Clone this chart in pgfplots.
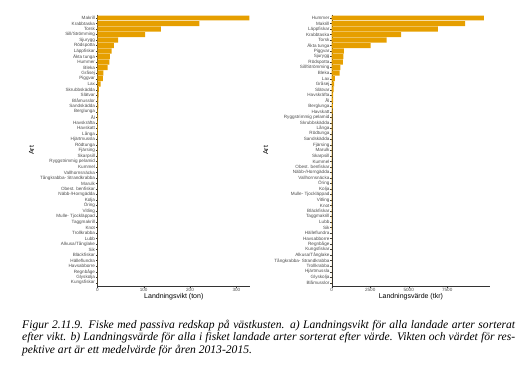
\documentclass[border=0pt]{standalone}
\usepackage{pgfplots}
\usepackage{pgfplotstable}
\pgfplotsset{compat=1.18}
\usepackage{fontspec}
\setmainfont{Liberation Sans}
\newfontfamily\capfont{Liberation Serif}
\definecolor{barc}{HTML}{E69F00}

\pgfplotstableread[col sep=comma,row sep=\\]{
name,val\\
Makrill,328\\
Krabbtaska,220\\
Torsk,137\\
Sill/Strömming,103\\
Sjurygg,45\\
Rödspotta,36\\
Läppfiskar,31\\
Äkta tunga,27\\
Hummer,26\\
Bleka,22\\
Gråsej,13\\
Piggvar,12\\
Lax,7\\
Skrubbskädda,3.5\\
Slätvar,2.8\\
Blåmusslor,2.5\\
Sandskädda,2.2\\
Berglunga,1.8\\
Ål,1.6\\
Havskräfta,1.4\\
Havskatt,1.2\\
Långa,1.0\\
Hjärtmussla,0.9\\
Rödtunga,0.8\\
Fjärsing,0.7\\
Skarpsill,0.6\\
Ryggstrimmig pelamid,0.5\\
Kummel,0.45\\
Vallhornsnäcka,0.4\\
Tångkrabba- Strandkrabba,0.35\\
Marulk,0.3\\
Obest. benfiskar,0.28\\
Näbb-/Horngädda,0.25\\
Kolja,0.22\\
Öring,0.2\\
Vitling,0.18\\
Mulle- Tjockläppad,0.15\\
Taggmakrill,0.12\\
Knot,0.1\\
Trollkrabba,0.09\\
Lubb,0.08\\
Alkusa/Tånglake,0.07\\
Sik,0.06\\
Bläckfiskar,0.05\\
Hälleflundra,0.04\\
Havsabborre,0.03\\
Regnbåge,0.02\\
Glyskolja,0.01\\
Kungsfiskar,0.005\\
}\lefttab

\pgfplotstableread[col sep=comma,row sep=\\]{
name,val\\
Hummer,9880\\
Makrill,8670\\
Läppfiskar,6900\\
Krabbtaska,4510\\
Torsk,3560\\
Äkta tunga,2520\\
Piggvar,790\\
Sjurygg,750\\
Rödspotta,730\\
Sill/Strömming,570\\
Bleka,510\\
Lax,210\\
Gråsej,160\\
Slätvar,130\\
Havskräfta,100\\
Ål,85\\
Berglunga,70\\
Havskatt,60\\
Ryggstrimmig pelamid,50\\
Skrubbskädda,45\\
Långa,40\\
Rödtunga,35\\
Sandskädda,30\\
Fjärsing,27\\
Marulk,24\\
Skarpsill,21\\
Kummel,18\\
Obest. benfiskar,16\\
Näbb-/Horngädda,14\\
Vallhornsnäcka,12\\
Öring,10\\
Kolja,9\\
Mulle- Tjockläppad,8\\
Vitling,7\\
Knot,6\\
Bläckfiskar,5\\
Taggmakrill,4.5\\
Lubb,4\\
Sik,3.5\\
Hälleflundra,3\\
Havsabborre,2.5\\
Regnbåge,2\\
Kungsfiskar,1.5\\
Alkusa/Tånglake,1.2\\
Tångkrabba- Strandkrabba,1\\
Trollkrabba,0.8\\
Hjärtmussla,0.6\\
Glyskolja,0.4\\
Blåmusslor,0.2\\
}\righttab

\pgfplotsset{
  artstyle/.style={
    scale only axis,
    anchor=south west,
    xbar,
    bar width=0.9,
    y dir=reverse,
    ymin=-0.6, ymax=48.6,
    ytick={0,...,48},
    xmin=0,
    axis lines*=left,
    axis line style={black!80, line width=0.4pt},
    tick align=outside,
    major tick length=1.5pt,
    tick style={black!80, line width=0.3pt},
    ticklabel style={font=\fontsize{4.6}{4.6}\selectfont, text=black!70},
    yticklabel style={inner sep=0.6pt},
    xticklabel style={inner sep=1pt},
    scaled x ticks=false,
    /pgf/number format/assume math mode=true,
    /pgf/number format/1000 sep={},
    label style={font=\fontsize{7}{7}\selectfont},
    xlabel style={yshift=3.5pt},
    ylabel style={yshift=2pt},
    ylabel={Art},
    clip=false,
  }
}

\begin{document}
\begin{tikzpicture}
\path[use as bounding box] (0pt,0pt) rectangle (525pt,375pt);
\begin{axis}[artstyle,
  at={(97.3pt,89pt)}, width=153pt, height=271.3pt,
  xmax=330, xtick={0,100,200,300},
  yticklabels from table={\lefttab}{name},
  xlabel={Landningsvikt (ton)}]
\addplot[fill=barc, draw=none] table[x=val, y expr=\coordindex] {\lefttab};
\end{axis}
\begin{axis}[artstyle,
  at={(331.7pt,89pt)}, width=158.3pt, height=271.3pt,
  xmax=10280, xtick={0,2500,5000,7500},
  yticklabels from table={\righttab}{name},
  xlabel={Landningsvärde (tkr)}]
\addplot[fill=barc, draw=none] table[x=val, y expr=\coordindex] {\righttab};
\end{axis}
\node[anchor=north west, text width=493pt, align=justify, inner sep=0pt,
  font=\capfont\itshape\fontsize{11.6}{12.4}\selectfont] at (22pt,55pt)
  {Figur 2.11.9. Fiske med passiva redskap på västkusten. a) Landningsvikt för alla landade arter sorterat\linebreak efter vikt. b) Landningsvärde för alla i fisket landade arter sorterat efter värde. Vikten och värdet för res-\linebreak pektive art är ett medelvärde för åren 2013-2015.};
\end{tikzpicture}
\end{document}
